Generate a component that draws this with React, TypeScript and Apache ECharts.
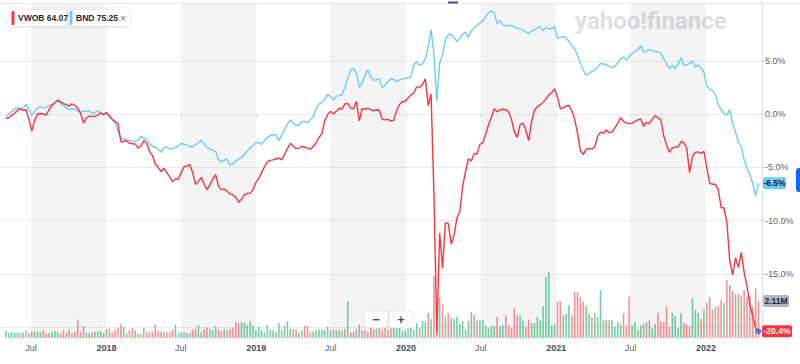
import React, { useEffect, useRef } from 'react';
import * as echarts from 'echarts';

// weekly observations starting 2017-05-01
const START_DATE = '2017-05-01';

// VWOB cumulative % change
const VWOB: number[] = [
  -0.4, -0.35, -0.1, 0.05, 0.35, 0.5, 0.35, 0.4, -0.5, -1.6,
  -0.6, 0.0, 0.05, 0.0, -0.1, 0.4, 0.8, 1.05, 1.3, 1.15,
  1.0, 0.85, 0.75, 0.95, 0.8, 0.55, 0.05, -0.85, -0.4, -0.2,
  -0.25, -0.2, -0.1, 0.1, -0.05, 0.15, -0.15, -0.5, -0.7, -0.9,
  -2.6, -2.6, -2.5, -2.75, -2.8, -2.8, -3.2, -3.0, -2.5, -2.75,
  -3.5, -3.9, -4.7, -5.0, -5.4, -5.1, -5.5, -5.9, -6.35, -6.1,
  -6.1, -5.5, -4.95, -4.9, -4.75, -5.5, -6.6, -6.3, -5.95, -6.6,
  -7.1, -6.65, -6.1, -5.7, -6.8, -7.1, -7.05, -7.25, -7.5, -7.6,
  -7.8, -8.3, -8.0, -7.6, -7.45, -7.45, -7.1, -6.45, -6.05, -5.5,
  -4.95, -4.5, -4.35, -4.3, -4.2, -4.15, -4.3, -3.8, -3.25, -2.75,
  -3.0, -3.25, -3.2, -3.05, -3.1, -3.2, -3.3, -3.05, -2.7, -2.2,
  -1.85, -0.6, -0.05, 0.25, 0.0, 0.25, 0.55, 0.45, 0.95, 1.0,
  0.55, 0.5, 1.2, -0.65, 0.5, 0.45, 0.55, 0.4, 0.3, 0.4,
  0.35, -0.5, -0.55, -0.5, -0.65, -0.6, 0.3, 0.9, 1.15, 1.2,
  1.5, 1.8, 2.0, 2.55, 2.5, 2.75, 3.3, 0.8, 1.9, -7.5,
  -20.6, -11.2, -14.5, -10.2, -10.3, -12.2, -11.4, -9.8, -9.15, -6.8,
  -5.4, -4.2, -4.4, -3.7, -3.75, -2.85, -2.7, -1.9, -1.0, -0.3,
  0.5, 0.2, 0.4, 0.45, 0.4, 0.2, -0.5, -1.7, -2.2, -1.0,
  -0.85, -1.5, -2.5, -0.7, 0.35, 0.7, 0.85, 1.1, 1.4, 1.8,
  2.0, 2.35, 1.6, 0.5, 0.55, 0.75, 0.8, 0.3, -0.5, -1.8,
  -3.45, -3.8, -3.3, -3.25, -3.3, -3.1, -2.1, -1.7, -1.8, -1.5,
  -1.75, -1.7, -1.3, -0.85, -0.35, -0.7, -0.85, -0.9, -0.85, -0.7,
  -0.55, -0.45, -1.15, -0.8, -0.9, -0.5, -0.15, -0.35, -0.55, -2.05,
  -2.9, -3.6, -3.2, -3.1, -3.1, -2.6, -2.7, -3.2, -5.5, -4.0,
  -3.6, -3.55, -3.7, -3.5, -5.0, -6.5, -6.6, -6.6, -7.1, -8.8,
  -8.8, -10.2, -13.8, -15.1, -13.5, -14.4, -13.0, -14.9, -16.2, -17.9,
  -19.0, -20.1, -20.4,
];

// BND cumulative % change
const BND: number[] = [
  -0.25, 0.0, 0.25, 0.45, 0.6, 0.5, 0.6, 0.9, 0.4, -0.1,
  0.2, 0.55, 0.7, 0.55, 0.65, 0.8, 0.9, 1.05, 1.3, 1.0,
  0.8, 0.6, 0.4, 0.5, 0.45, 0.3, 0.15, 0.3, 0.25, 0.3,
  0.1, 0.15, 0.3, 0.0, -0.1, 0.05, -0.25, -0.5, -0.8, -1.6,
  -2.3, -2.35, -2.4, -2.5, -2.6, -2.55, -2.45, -2.1, -2.3, -2.4,
  -2.8, -3.05, -3.1, -3.3, -3.6, -3.15, -3.1, -3.3, -3.25, -3.15,
  -3.0, -2.75, -2.85, -2.9, -3.05, -3.1, -2.9, -2.7, -2.45, -2.8,
  -3.15, -3.3, -3.4, -3.5, -4.3, -4.5, -4.35, -4.2, -4.8, -4.7,
  -4.4, -4.25, -4.1, -3.8, -3.45, -3.2, -3.0, -2.7, -2.7, -2.85,
  -2.5, -2.25, -2.0, -1.95, -1.95, -2.5, -2.0, -1.45, -0.95, -0.55,
  -0.85, -1.05, -1.05, -0.7, -0.7, -0.85, -0.5, -0.25, 0.55, 0.95,
  1.1, 1.4, 1.85, 1.65, 1.3, 1.65, 1.75, 1.8, 2.5, 3.4,
  4.1, 4.3, 3.85, 2.5, 2.9, 3.6, 4.15, 3.5, 3.2, 3.2,
  3.3, 2.5, 2.7, 3.05, 3.3, 3.25, 3.05, 3.2, 3.3, 3.35,
  3.4, 3.5, 4.6, 4.9, 4.6, 4.7, 5.2, 6.3, 7.9, 5.6,
  1.2, 4.8, 5.55, 7.0, 7.45, 7.5, 7.2, 6.8, 7.1, 7.5,
  7.7, 7.2, 7.8, 8.1, 8.3, 8.55, 8.75, 9.1, 9.5, 9.7,
  9.5, 8.5, 8.8, 8.4, 8.25, 8.35, 8.3, 8.15, 8.05, 8.0,
  7.9, 7.7, 7.55, 7.8, 7.9, 8.1, 8.2, 7.8, 8.15, 8.0,
  8.0, 8.2, 7.1, 7.2, 7.25, 7.2, 6.8, 6.45, 6.1, 5.5,
  4.75, 4.1, 3.65, 3.8, 4.0, 4.15, 4.4, 4.75, 4.7, 4.65,
  4.45, 4.35, 4.5, 4.8, 5.2, 5.35, 5.05, 5.4, 5.7, 5.85,
  6.05, 6.4, 5.8, 5.9, 6.05, 5.95, 5.85, 5.85, 5.7, 5.2,
  4.7, 4.25, 4.55, 4.25, 4.7, 5.3, 4.6, 4.6, 4.75, 5.0,
  4.4, 4.6, 4.3, 3.9, 2.6, 2.35, 2.2, 1.85, 0.9, 0.4,
  0.05, -0.1, 0.4, -0.9, -1.65, -2.7, -3.0, -4.3, -5.1, -5.7,
  -6.5, -7.7, -6.5,
];

// VWOB weekly volume, millions
const VOLUME_M: number[] = [
  0.40, 0.29, 0.34, 0.29, 0.29, 0.29, 0.33, 0.44, 0.29, 0.38,
  0.38, 0.38, 0.33, 0.44, 0.25, 0.29, 0.33, 0.40, 0.33, 0.25,
  0.44, 0.29, 0.47, 0.29, 0.36, 1.05, 0.34, 0.67, 0.29, 0.29,
  0.33, 0.36, 0.38, 0.40, 0.29, 0.51, 0.55, 0.33, 0.47, 0.59,
  0.78, 0.63, 0.25, 0.44, 0.57, 0.44, 0.25, 0.21, 0.57, 0.34,
  0.34, 0.36, 0.76, 0.42, 0.38, 0.36, 0.36, 0.34, 0.47, 0.76,
  0.29, 0.34, 0.34, 0.29, 0.29, 0.47, 0.53, 0.73, 0.34, 0.50,
  0.61, 0.53, 0.47, 0.67, 0.50, 0.40, 0.50, 0.44, 0.53, 0.59,
  0.90, 0.86, 0.91, 0.86, 0.73, 0.97, 0.70, 0.44, 0.63, 0.47,
  0.36, 0.73, 0.47, 0.44, 0.34, 0.86, 0.47, 0.69, 0.97, 0.53,
  0.51, 0.47, 0.33, 0.44, 0.70, 0.70, 0.33, 0.38, 0.44, 0.50,
  0.47, 0.47, 0.67, 0.47, 0.50, 0.44, 0.47, 0.40, 0.51, 2.11,
  0.34, 0.34, 0.51, 0.76, 0.44, 0.44, 0.34, 0.63, 0.47, 0.53,
  0.59, 0.47, 0.63, 0.47, 0.53, 0.63, 0.53, 0.59, 0.38, 0.44,
  0.53, 0.59, 0.47, 0.86, 0.59, 0.97, 0.91, 1.43, 1.07, 3.53,
  1.60, 2.34, 1.96, 1.20, 1.43, 1.16, 1.10, 1.20, 0.82, 0.97,
  0.47, 0.97, 1.49, 1.30, 1.05, 1.01, 1.01, 0.73, 0.53, 0.67,
  0.70, 1.20, 0.67, 0.73, 1.30, 0.73, 0.59, 1.71, 1.30, 1.30,
  1.01, 0.63, 1.05, 0.86, 0.86, 1.20, 1.01, 1.81, 3.49, 3.77,
  0.73, 0.82, 2.10, 2.10, 1.30, 1.39, 1.87, 1.30, 2.63, 2.63,
  2.34, 2.06, 1.81, 1.39, 1.20, 1.43, 1.20, 2.73, 1.05, 1.05,
  1.01, 1.01, 0.67, 0.91, 0.82, 1.43, 0.73, 2.38, 0.73, 0.91,
  0.44, 0.73, 0.82, 0.91, 1.01, 0.53, 0.82, 1.43, 0.91, 0.91,
  1.81, 0.63, 1.43, 1.26, 0.59, 1.43, 0.86, 0.78, 0.67, 2.29,
  1.62, 1.43, 1.10, 1.62, 2.00, 2.34, 1.62, 1.77, 1.81, 2.19,
  2.00, 3.30, 3.01, 2.69, 2.50, 2.53, 2.44, 2.76, 2.34, 2.38,
  1.77, 2.82, 2.11,
];

const Y_TICKS = [-20, -15, -10, -5, 0, 5];
// the -20.0% label sits under the last-value badge, so only these are printed
const Y_LABELS = [-15, -10, -5, 0, 5];
const X_TICK_DATES = [
  '2017-07-01', '2018-01-01', '2018-07-01', '2019-01-01', '2019-07-01',
  '2020-01-01', '2020-07-01', '2021-01-01', '2021-07-01', '2022-01-01',
];
const SHADED_RANGES: [string, string][] = [
  ['2017-07-01', '2018-01-01'],
  ['2018-07-01', '2019-01-01'],
  ['2019-07-01', '2020-01-01'],
  ['2020-07-01', '2021-01-01'],
  ['2021-07-01', '2022-01-01'],
];
const LEGEND_NAMES = ['VWOB', 'BND'];
const LEGEND_PRICES = ['64.07', '75.25'];
const LAST_VOLUME_LABEL = '2.11M';

const RED = '#ff333a';
const BLUE = '#6bcdfa';
const FONT = '"Liberation Sans", Arial, sans-serif';
const DAY = 86400000;

const ts = (d: string) => Date.parse(d + 'T00:00:00Z');

export default function App() {
  const ref = useRef<HTMLDivElement>(null);

  useEffect(() => {
    if (!ref.current) return;
    const chart = echarts.init(ref.current, null, { renderer: 'svg' });
    const start = ts(START_DATE);
    const dates = VWOB.map((_, i) => start + i * 7 * DAY);
    const jan2018 = ts('2018-01-01');
    const xMin = jan2018 - 259.5 * DAY;
    const xMax = jan2018 + 1597.5 * DAY;
    const xTicks = X_TICK_DATES.map(ts);

    const volData = VOLUME_M.map((v, i) => {
      const up = i === 0 ? true : VWOB[i] >= VWOB[i - 1];
      return {
        value: [dates[i], v],
        itemStyle: { color: up ? 'rgba(0,168,90,0.55)' : 'rgba(255,51,58,0.55)' },
      };
    });

    chart.setOption({
      animation: false,
      textStyle: { fontFamily: FONT },
      grid: { left: 0, top: 4, width: 762, height: 334 },
      xAxis: {
        type: 'value',
        min: xMin,
        max: xMax,
        axisLine: { show: false },
        axisTick: {
          show: true,
          customValues: xTicks,
          length: 3,
          lineStyle: { color: '#d6d6d6' },
        },
        axisLabel: {
          customValues: xTicks,
          margin: 5,
          fontSize: 9,
          color: '#5b636a',
          fontFamily: FONT,
          formatter: (v: number) => {
            const d = new Date(v);
            return d.getUTCMonth() === 0 ? `{y|${d.getUTCFullYear()}}` : 'Jul';
          },
          rich: {
            y: { fontSize: 9, fontWeight: 'bold', color: '#464e56', fontFamily: FONT },
          },
        },
        splitLine: { show: false },
      },
      yAxis: [
        {
          type: 'value',
          position: 'right',
          min: -21.03,
          max: 10.33,
          axisLine: { show: true, lineStyle: { color: '#e2e2e2' } },
          axisTick: { show: true, customValues: Y_TICKS, length: 2, lineStyle: { color: '#c9c9c9' } },
          axisLabel: {
            customValues: Y_LABELS,
            margin: 3,
            fontSize: 9,
            color: '#5b636a',
            fontFamily: FONT,
            formatter: (v: number) => `${v.toFixed(1)}%`,
          },
          splitLine: { show: true, lineStyle: { color: '#ececec', width: 1 } },
        },
        { type: 'value', min: 0, max: 19.09, show: false, splitLine: { show: false } },
      ],
      series: [
        {
          name: 'Volume',
          type: 'bar',
          yAxisIndex: 1,
          barWidth: 1.6,
          z: 2,
          data: volData,
          markArea: {
            silent: true,
            itemStyle: { color: 'rgba(0,0,0,0.043)' },
            data: SHADED_RANGES.map(([a, b]) => [{ xAxis: ts(a) }, { xAxis: ts(b) }]),
          },
        },
        {
          name: 'BND',
          type: 'line',
          z: 3,
          showSymbol: false,
          lineStyle: { color: BLUE, width: 1.4 },
          itemStyle: { color: BLUE },
          data: BND.map((v, i) => [dates[i], v]),
        },
        {
          name: 'VWOB',
          type: 'line',
          z: 4,
          showSymbol: false,
          lineStyle: { color: RED, width: 1.4 },
          itemStyle: { color: RED },
          data: VWOB.map((v, i) => [dates[i], v]),
        },
        {
          name: 'last',
          type: 'scatter',
          z: 6,
          symbolSize: 6,
          itemStyle: { color: '#1a6dff' },
          data: [[dates[dates.length - 1], VWOB[VWOB.length - 1]]],
        },
      ],
    });

    const lastV = VWOB[VWOB.length - 1];
    const lastB = BND[BND.length - 1];
    const lastVol = VOLUME_M[VOLUME_M.length - 1];
    const yV = chart.convertToPixel({ yAxisIndex: 0 }, lastV) as number;
    const yB = chart.convertToPixel({ yAxisIndex: 0 }, lastB) as number;
    const yVol = chart.convertToPixel({ yAxisIndex: 1 }, lastVol) as number;

    const badge = (x: number, y: number, w: number, fill: string, text: string, color: string) => ({
      type: 'group',
      z: 100,
      children: [
        { type: 'rect', shape: { x, y: y - 6, width: w, height: 12, r: 2 }, style: { fill }, z: 100 },
        {
          type: 'text',
          x: x + w / 2,
          y,
          z: 101,
          style: {
            text,
            fill: color,
            font: `bold 8.5px ${FONT}`,
            textAlign: 'center',
            textVerticalAlign: 'middle',
          },
        },
      ],
    });

    const legendBox = (x: number, w: number, color: string, name: string, price: string, withClose: boolean) => {
      const children: any[] = [
        {
          type: 'rect',
          shape: { x, y: 10, width: w, height: 16, r: 2 },
          style: { fill: '#ffffff', shadowBlur: 3, shadowColor: 'rgba(0,0,0,0.18)', shadowOffsetY: 0.5 },
          z: 100,
        },
        { type: 'rect', shape: { x: x + 1.5, y: 11, width: 3, height: 14, r: 1 }, style: { fill: color }, z: 101 },
        {
          type: 'text',
          x: x + 8,
          y: 18,
          z: 101,
          style: {
            text: `${name} ${price}`,
            fill: '#232a31',
            font: `bold 8.5px ${FONT}`,
            textVerticalAlign: 'middle',
          },
        },
      ];
      if (withClose) {
        children.push({
          type: 'text',
          x: x + w - 7,
          y: 18,
          z: 101,
          style: { text: '×', fill: '#6e7780', font: `11px ${FONT}`, textAlign: 'center', textVerticalAlign: 'middle' },
        });
      }
      return { type: 'group', z: 100, children };
    };

    chart.setOption({
      graphic: [
        {
          type: 'line',
          shape: { x1: 0, y1: 3.5, x2: 800, y2: 3.5 },
          style: { stroke: '#e6e6e6', lineWidth: 1 },
          z: 1,
        },
        {
          type: 'rect',
          shape: { x: 448, y: 1.5, width: 10, height: 2 },
          style: { fill: '#4549a8' },
          z: 50,
        },
        {
          type: 'text',
          x: 575,
          y: 21,
          z: 0,
          style: {
            text: 'yahoo!finance',
            fill: '#dedfe3',
            font: `bold 24px Roboto, ${FONT}`,
            textVerticalAlign: 'middle',
          },
        },
        legendBox(10, 57, RED, LEGEND_NAMES[0], LEGEND_PRICES[0], false),
        legendBox(68, 62, BLUE, LEGEND_NAMES[1], LEGEND_PRICES[1], true),
        {
          type: 'group',
          z: 90,
          children: [
            {
              type: 'rect',
              shape: { x: 364, y: 311, width: 24, height: 17, r: 3 },
              style: { fill: 'rgba(255,255,255,0.78)', stroke: 'rgba(0,0,0,0.07)' },
              z: 90,
            },
            {
              type: 'rect',
              shape: { x: 389, y: 311, width: 24, height: 17, r: 3 },
              style: { fill: 'rgba(255,255,255,0.78)', stroke: 'rgba(0,0,0,0.07)' },
              z: 90,
            },
            {
              type: 'text',
              x: 376,
              y: 319.5,
              z: 91,
              style: { text: '−', fill: '#464e56', font: `bold 13px ${FONT}`, textAlign: 'center', textVerticalAlign: 'middle' },
            },
            {
              type: 'text',
              x: 401,
              y: 319.5,
              z: 91,
              style: { text: '+', fill: '#464e56', font: `bold 13px ${FONT}`, textAlign: 'center', textVerticalAlign: 'middle' },
            },
          ],
        },
        badge(763, yB, 23, BLUE, `${lastB.toFixed(1)}%`, '#10202e'),
        badge(763, yVol, 26, '#b2b6bc', LAST_VOLUME_LABEL, '#232a31'),
        badge(762, yV, 30, RED, `${lastV.toFixed(1)}%`, '#ffffff'),
        {
          type: 'rect',
          shape: { x: 796, y: 168, width: 12, height: 24, r: 3 },
          style: { fill: '#0f69ff' },
          z: 100,
        },
      ],
    });

    return () => chart.dispose();
  }, []);

  return (
    <div
      ref={ref}
      style={{ position: 'fixed', left: 0, top: 0, width: 800, height: 364, background: '#fff' }}
    />
  );
}
